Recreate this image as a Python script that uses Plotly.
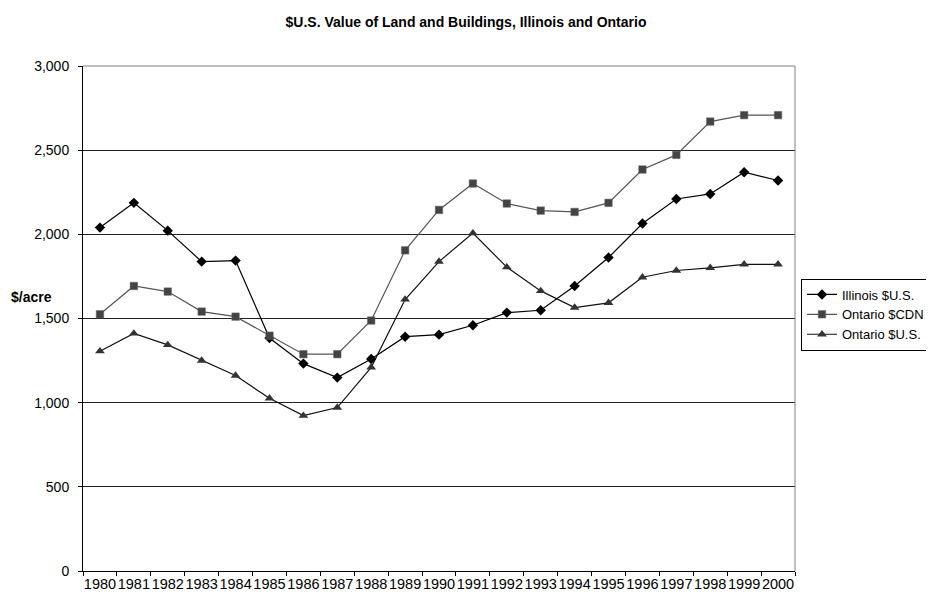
import plotly.graph_objects as go

years = [str(y) for y in range(1980, 2001)]
illinois_us = [2040, 2187, 2022, 1838, 1844, 1384, 1232, 1149, 1259, 1392, 1404,
               1460, 1535, 1549, 1693, 1862, 2064, 2210, 2240, 2369, 2320]
ontario_cdn = [1525, 1693, 1660, 1541, 1511, 1398, 1288, 1288, 1488, 1905, 2145,
               2302, 2183, 2141, 2133, 2187, 2385, 2472, 2670, 2708, 2708]
ontario_us = [1306, 1411, 1343, 1250, 1161, 1026, 923, 971, 1210, 1613, 1838,
              2007, 1805, 1664, 1565, 1593, 1745, 1785, 1801, 1822, 1822]
y_ticks = [0, 500, 1000, 1500, 2000, 2500, 3000]

FONT = "Liberation Sans, Arial, sans-serif"

# page has an 8px body margin; size the figure so the plot lands where the reference has it
W, H = 926, 597
L, T = 75, 58
PW, PH = 712, 505

fig = go.Figure()
fig.add_trace(go.Scatter(x=years, y=illinois_us, name="Illinois $U.S.", mode="lines+markers",
                         line=dict(color="#000000", width=1.2),
                         marker=dict(symbol="diamond", size=8, color="#000000")))
fig.add_trace(go.Scatter(x=years, y=ontario_cdn, name="Ontario $CDN", mode="lines+markers",
                         line=dict(color="#555555", width=1.2),
                         marker=dict(symbol="square", size=7.5, color="#444444",
                                     line=dict(color="#666666", width=0.5))))
fig.add_trace(go.Scatter(x=years, y=ontario_us, name="Ontario $U.S.", mode="lines+markers",
                         line=dict(color="#111111", width=1.2),
                         marker=dict(symbol="triangle-up", size=8.5, color="#333333")))

fig.update_layout(
    width=W, height=H,
    margin=dict(l=L, r=W - L - PW, t=T, b=H - T - PH, autoexpand=False),
    paper_bgcolor="white", plot_bgcolor="white",
    font=dict(family=FONT, size=12, color="black"),
    title=dict(text="<b>$U.S. Value of Land and Buildings, Illinois and Ontario</b>",
               x=(466 - 8) / W, xanchor="center", y=1 - 14 / H, yanchor="middle",
               font=dict(family=FONT, size=14, color="black")),
    showlegend=True,
    legend=dict(x=(801 - 83) / PW, y=(571 - 314.5) / PH, xanchor="left", yanchor="middle",
                bgcolor="white", bordercolor="black", borderwidth=1,
                font=dict(family=FONT, size=13, color="black"), tracegroupgap=0,
                itemwidth=30),
)
fig.update_xaxes(type="category", range=[-0.5, 20.5], tickson="boundaries",
                 ticks="outside", ticklen=4, tickcolor="black",
                 showline=True, linecolor="black", linewidth=1, mirror=False,
                 showgrid=False, tickangle=0, tickfont=dict(size=14.5, color="black"),
                 tickvals=years, ticktext=years, automargin=False)
fig.update_yaxes(range=[0, 3000], tickvals=y_ticks, tickformat=",",
                 ticks="outside", ticklen=4, tickcolor="black",
                 showline=True, linecolor="black", linewidth=1,
                 showgrid=True, gridcolor="#222222", gridwidth=1,
                 tickfont=dict(size=14, color="black"), ticklabelstandoff=6,
                 zeroline=False, automargin=False)
# gray frame on top/right
fig.add_shape(type="line", xref="paper", yref="paper", x0=0, x1=1, y0=1, y1=1,
              line=dict(color="#808080", width=1))
fig.add_shape(type="line", xref="paper", yref="paper", x0=1, x1=1, y0=0, y1=1,
              line=dict(color="#808080", width=1))
fig.add_annotation(text="<b>$/acre</b>", xref="paper", yref="paper",
                   x=-74 / PW, y=(571 - 297) / PH, xanchor="left",
                   yanchor="middle", showarrow=False,
                   font=dict(family=FONT, size=14, color="black"))

fig.write_html("out.html")
